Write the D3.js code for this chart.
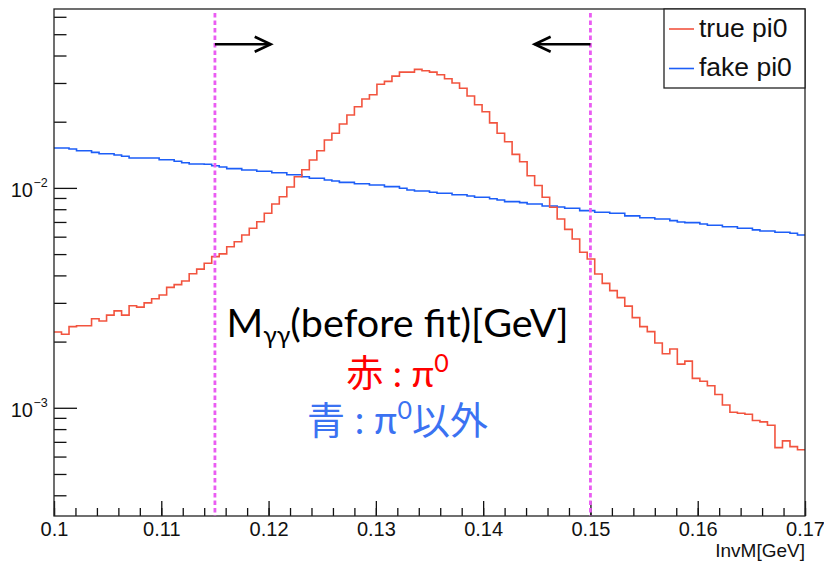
<!DOCTYPE html>
<html><head><meta charset="utf-8">
<script src="https://cdn.jsdelivr.net/npm/d3@7"></script>
<style>body{margin:0;background:#fff}</style>
</head><body><svg id="c" width="824" height="563"></svg>
<script>
// ---- data ----
const xTicks = [0.10,0.11,0.12,0.13,0.14,0.15,0.16,0.17];
const xTickLabels = ["0.1","0.11","0.12","0.13","0.14","0.15","0.16","0.17"];
const yTicks = [1e-3, 1e-2];
const yTickExps = ["\u22123","\u22122"];
const binRange = [0.10, 0.17];
const nBins = 100;
const trueVals = [
0.00221,0.00216,0.00234,0.00236,0.00236,0.00254,0.00248,0.00264,0.00276,0.00264,
0.00291,0.00287,0.00300,0.00313,0.00326,0.00353,0.00363,0.00377,0.00407,0.00427,
0.00454,0.00487,0.00501,0.00540,0.00569,0.00611,0.00655,0.00702,0.00767,0.00845,
0.00912,0.0101,0.01124,0.0121,0.01339,0.01476,0.01651,0.01771,0.01952,0.02145,
0.02339,0.02536,0.02652,0.02961,0.03051,0.03225,0.03363,0.03363,0.0346,0.03409,
0.03363,0.03269,0.03135,0.02998,0.0284,0.02617,0.02389,0.02221,0.01976,0.01771,
0.01622,0.01421,0.01315,0.01136,0.01025,0.00907,0.00816,0.00722,0.00648,0.00586,
0.0051,0.00475,0.00406,0.00368,0.00341,0.00317,0.0029,0.00257,0.00234,0.00222,
0.00197,0.00176,0.00185,0.00158,0.00163,0.00136,0.00132,0.00126,0.00115,0.00103,
0.000955,0.000945,0.000935,0.000875,0.000863,0.000833,0.000659,0.000707,0.000666,0.000644];
const fakeVals = [
0.01518,0.01518,0.01502,0.01476,0.01476,0.01451,0.0143,0.0143,0.01411,0.01392,
0.01367,0.01367,0.01367,0.01367,0.01343,0.01343,0.01321,0.01302,0.01284,0.01284,
0.0128,0.01261,0.01245,0.01223,0.01223,0.01206,0.01206,0.0119,0.0119,0.01172,
0.01172,0.01148,0.01148,0.01124,0.01106,0.01106,0.01086,0.01075,0.0106,0.0106,
0.01045,0.01045,0.01031,0.01031,0.01013,0.01013,0.00996,0.00978,0.00968,0.00968,
0.00955,0.00945,0.00945,0.00931,0.00931,0.00919,0.00906,0.00906,0.00893,0.00881,
0.00866,0.00866,0.00857,0.00845,0.00845,0.00827,0.00827,0.00819,0.00808,0.00808,
0.00788,0.00788,0.00775,0.00775,0.00767,0.00767,0.00746,0.00746,0.00732,0.00732,
0.00722,0.00722,0.0071,0.007,0.00695,0.00695,0.00685,0.00676,0.00676,0.00666,
0.00666,0.00655,0.00655,0.00644,0.00637,0.00637,0.00628,0.00628,0.00622,0.00611];
const legendLabels = ["true pi0","fake pi0"];
const cutValues = [0.115, 0.15];
const arrowTargets = [0.1202, 0.1448];
const arrowLevel = 0.045;
const xTitle = "InvM[GeV]";

// ---- layout ----
const L = 54, R = 805, T = 9, B = 516;
const redC = "#f2543f", blueC = "#1d5ef7", magC = "#ea5cf2";
const svg = d3.select("#c");
const x = d3.scaleLinear().domain(binRange).range([L, R]);
const y = d3.scaleLog().domain([3.22e-4, 0.0651]).range([B, T]);
const edges = d3.range(nBins + 1).map(i => binRange[0] + i * (binRange[1] - binRange[0]) / nBins);
const helv = "'Liberation Sans',Arial,sans-serif";

// histograms
const line = d3.line().x(d => x(d[0])).y(d => y(d[1])).curve(d3.curveStepAfter);
function pts(vals){ const p = vals.map((v,i)=>[edges[i], v]); p.push([edges[nBins], vals[nBins-1]]); return p; }
svg.append("path").datum(pts(fakeVals)).attr("d", line).attr("fill","none").attr("stroke",blueC).attr("stroke-width",1.6);
svg.append("path").datum(pts(trueVals)).attr("d", line).attr("fill","none").attr("stroke",redC).attr("stroke-width",1.6);

// axes (ticks inward)
const xMinor = d3.range(0, 36).map(i => binRange[0] + i * 0.002);
svg.append("g").attr("transform",`translate(0,${B})`)
  .call(d3.axisBottom(x).tickValues(xMinor).tickSize(-8).tickSizeOuter(0).tickFormat(""))
  .call(g => g.select(".domain").remove());
svg.append("g").attr("transform",`translate(0,${B})`)
  .call(d3.axisBottom(x).tickValues(xTicks).tickSize(-15).tickSizeOuter(0).tickPadding(6).tickFormat((d,i)=>xTickLabels[i]))
  .call(g => g.select(".domain").remove())
  .call(g => g.selectAll("text").attr("font-family",helv).attr("font-size",20).attr("fill","#111"));

const yMinor = [];
[1e-4,1e-3,1e-2].forEach(b => d3.range(2,10).forEach(k => { const v = b*k; if (v > 3.22e-4 && v < 0.0651) yMinor.push(v); }));
svg.append("g").attr("transform",`translate(${L},0)`)
  .call(d3.axisLeft(y).tickValues(yMinor).tickSize(-12.5).tickSizeOuter(0).tickFormat(""))
  .call(g => g.select(".domain").remove());
svg.append("g").attr("transform",`translate(${L},0)`)
  .call(d3.axisLeft(y).tickValues(yTicks).tickSize(-23).tickSizeOuter(0).tickFormat(""))
  .call(g => g.select(".domain").remove());
svg.selectAll(".tick line").attr("stroke","#111").attr("stroke-width",1.3);

// y labels 10^n
yTicks.forEach((v,i) => {
  svg.append("text").attr("font-family",helv).attr("fill","#111")
    .attr("x",33).attr("y",y(v)+9).attr("text-anchor","end").attr("font-size",20).text("10");
  svg.append("text").attr("font-family",helv).attr("fill","#111")
    .attr("x",33.5).attr("y",y(v)-0.5).attr("font-size",12.5).text(yTickExps[i]);
});

// x title
svg.append("text").attr("x",R).attr("y",557).attr("text-anchor","end")
  .attr("font-family",helv).attr("font-size",19).attr("fill","#111").text(xTitle);

// frame
svg.append("rect").attr("x",L).attr("y",T).attr("width",R-L).attr("height",B-T)
  .attr("fill","none").attr("stroke","#222").attr("stroke-width",1.3);

// cut lines
cutValues.forEach(c => {
  svg.append("line").attr("x1",x(c)).attr("x2",x(c)).attr("y1",13).attr("y2",B)
    .attr("stroke",magC).attr("stroke-width",2.8).attr("stroke-dasharray","4.5,3");
});
// arrows
cutValues.forEach((c,i) => {
  const x0 = x(c), x1 = x(arrowTargets[i]), yy = y(arrowLevel);
  const dir = Math.sign(x1 - x0);
  svg.append("line").attr("x1",x0).attr("x2",x1).attr("y1",yy).attr("y2",yy).attr("stroke","#000").attr("stroke-width",2.6);
  svg.append("path").attr("d",`M${x1-dir*16},${yy-7.5}L${x1},${yy}L${x1-dir*16},${yy+7.5}`)
    .attr("fill","none").attr("stroke","#000").attr("stroke-width",2.6);
});

// legend
const lg = svg.append("g");
lg.append("rect").attr("x",664).attr("y",T).attr("width",R-664).attr("height",79)
  .attr("fill","#fff").attr("stroke","#222").attr("stroke-width",1.3);
[[redC,29,36.5],[blueC,68.5,76]].forEach((d,i) => {
  lg.append("line").attr("x1",669).attr("x2",694).attr("y1",d[1]).attr("y2",d[1]).attr("stroke",d[0]).attr("stroke-width",1.6);
  lg.append("text").attr("x",699).attr("y",d[2]).attr("font-family",helv)
    .attr("font-size",26.5).attr("fill","#111").text(legendLabels[i]);
});

// annotation
const cx = 397.5;
const latin = "Lato,'Noto Sans',sans-serif";
const cjk = "'Noto Sans CJK JP','Noto Sans CJK SC',sans-serif";
const a1 = svg.append("text").attr("x",cx).attr("y",336.5).attr("text-anchor","middle").attr("font-family",latin).attr("font-size",39.5).attr("fill","#000");
a1.append("tspan").text("M");
a1.append("tspan").attr("font-size",25).attr("dy",7).text("γγ");
a1.append("tspan").attr("dy",-7).text("(before fit)[GeV]");

const a2 = svg.append("text").attr("x",cx).attr("y",386.5).attr("text-anchor","middle").attr("font-size",37).attr("fill","#f00");
a2.append("tspan").attr("font-family",cjk).text("赤");
a2.append("tspan").attr("font-family",latin).text(" : π");
a2.append("tspan").attr("font-family",latin).attr("font-size",25).attr("dy",-15).text("0");

const a3 = svg.append("text").attr("x",cx).attr("y",434).attr("text-anchor","middle").attr("font-size",38).attr("fill","#3b72f2");
a3.append("tspan").attr("font-family",cjk).text("青");
a3.append("tspan").attr("font-family",latin).text(" : π");
a3.append("tspan").attr("font-family",latin).attr("font-size",25).attr("dy",-15).text("0");
a3.append("tspan").attr("font-family",cjk).attr("dy",15).text("以外");
</script></body></html>
